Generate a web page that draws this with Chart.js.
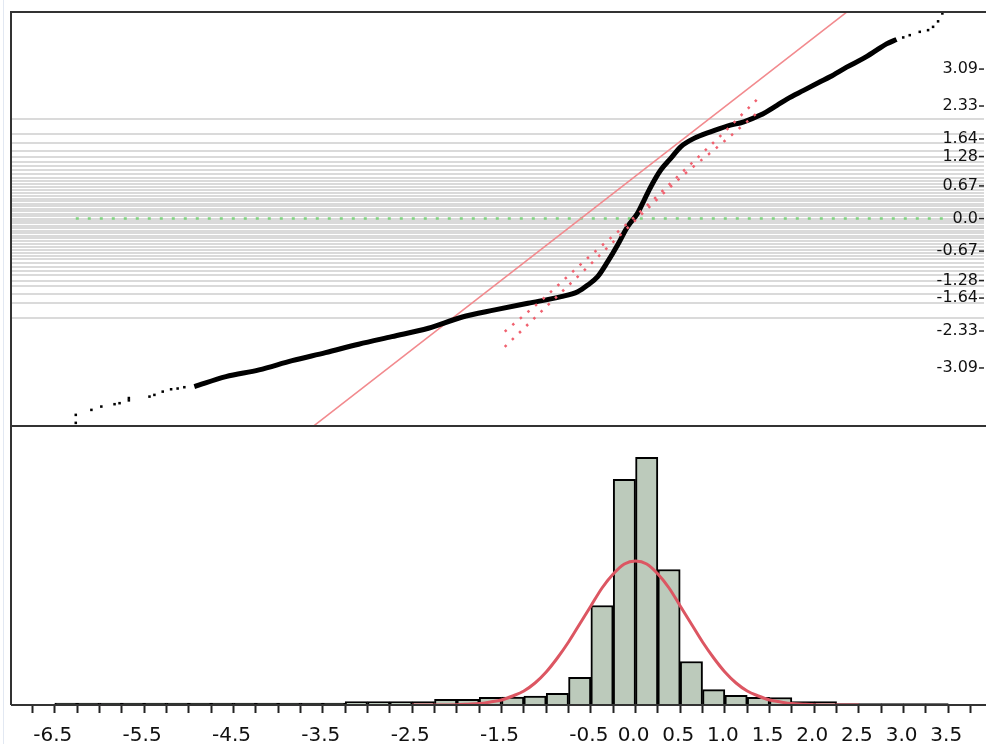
<!DOCTYPE html>
<html>
<head>
<meta charset="utf-8">
<title>Normal quantile plot</title>
<script src="https://cdn.jsdelivr.net/npm/chart.js@4.4.1/dist/chart.umd.min.js"></script>
<style>
    html, body { margin: 0; padding: 0; background: #fff; }
    #wrap { position: relative; width: 988px; height: 744px; overflow: hidden; }
    #edge { position: absolute; left: 3px; top: 0; width: 1px; height: 744px; background: #e2e8f2; }
</style>
</head>
<body>
<div id="wrap">
    <canvas id="chart" width="988" height="744"></canvas>
    <div id="edge"></div>
</div>
<script>
// ---- data ----
// quantile plot: data value (x) vs normal quantile (y)
const tailLowValues = [-6.265, -6.265, -6.090, -5.979, -5.831, -5.775, -5.671, -5.671, -5.440, -5.385, -5.292, -5.198, -5.125, -5.050];
const tailLowQuantiles = [-4.225, -4.060, -3.957, -3.888, -3.839, -3.818, -3.760, -3.712, -3.682, -3.647, -3.579, -3.530, -3.515, -3.488];

const denseValues = [-4.938, -4.585, -4.214, -3.843, -3.470, -3.099, -2.728, -2.319, -1.948, -1.575, -1.204, -0.833, -0.647, -0.535, -0.424, -0.312, -0.201, -0.089, 0.022, 0.097, 0.171, 0.282, 0.394, 0.505, 0.654, 0.839, 1.026, 1.212, 1.397, 1.583, 1.695, 1.881, 2.066, 2.177, 2.363, 2.550, 2.698, 2.809, 2.921];
const denseQuantiles = [-3.475, -3.269, -3.130, -2.938, -2.773, -2.599, -2.442, -2.269, -2.041, -1.890, -1.752, -1.616, -1.512, -1.374, -1.202, -0.893, -0.548, -0.169, 0.107, 0.382, 0.657, 1.002, 1.244, 1.483, 1.657, 1.793, 1.911, 2.000, 2.138, 2.340, 2.470, 2.650, 2.826, 2.930, 3.130, 3.310, 3.480, 3.610, 3.702];

const tailHighValues = [2.996, 3.069, 3.181, 3.274, 3.330, 3.386, 3.434];
const tailHighQuantiles = [3.744, 3.791, 3.860, 3.895, 3.963, 4.077, 4.240];

// fitted reference line and confidence bands
const refLineValues = [-3.601, 2.363];
const refLineQuantiles = [-4.287, 4.267];
const bandUpperValues = [-1.464, -1.037, -0.535, -0.011, 0.524, 0.970, 1.397];
const bandUpperQuantiles = [-2.339, -1.663, -0.816, 0.031, 0.961, 1.746, 2.531];
const bandLowerValues = [-1.464, -1.037, -0.535, -0.011, 0.524, 0.970, 1.397];
const bandLowerQuantiles = [-2.655, -1.890, -1.002, -0.052, 0.878, 1.560, 2.242];
const medianValues = [-6.265, 3.439];

// right axis: labelled normal quantiles
const quantLabels = ['3.09', '2.33', '1.64', '1.28', '0.67', '0.0', '-0.67', '-1.28', '-1.64', '-2.33', '-3.09'];
const quantValues = [3.090, 2.326, 1.645, 1.282, 0.674, 0, -0.674, -1.282, -1.645, -2.326, -3.090];
// probability grid p = 0.02 ... 0.98, as normal quantiles
const probGridQuantiles = [-2.054, -1.751, -1.555, -1.405, -1.282, -1.175, -1.080, -0.994, -0.915, -0.842, -0.772, -0.706, -0.643, -0.583, -0.524, -0.468, -0.412, -0.358, -0.305, -0.253, -0.202, -0.151, -0.100, -0.050, 0,
    0.050, 0.100, 0.151, 0.202, 0.253, 0.305, 0.358, 0.412, 0.468, 0.524, 0.583, 0.643, 0.706, 0.772, 0.842, 0.915, 0.994, 1.080, 1.175, 1.282, 1.405, 1.555, 1.751, 2.054];

// histogram (bin centres, width 0.25)
const histBins = [-6.375, -6.125, -5.875, -5.625, -5.375, -5.125, -4.875, -4.625, -4.375, -4.125, -3.875, -3.625, -3.375,
    -3.125, -2.875, -2.625, -2.375, -2.125, -1.875, -1.625, -1.375, -1.125, -0.875, -0.625, -0.375, -0.125,
    0.125, 0.375, 0.625, 0.875, 1.125, 1.375, 1.625, 1.875, 2.125, 2.375, 2.625, 2.875, 3.125, 3.375];
const histCounts = [2, 2, 2, 2, 2, 2, 2, 2, 2, 2, 2, 2, 2,
    3.3, 3.3, 3.3, 3.3, 5.7, 5.7, 7.7, 8, 9, 11.7, 27.7, 99.5, 225.7,
    247.7, 135.5, 43.5, 15.3, 9.7, 7.7, 7.5, 3.3, 3.3, 1.5, 1.5, 1.5, 1.5, 1.5];

// fitted normal density drawn over the histogram
const curveValues = [-2.5, -2.25, -2.0, -1.875, -1.75, -1.625, -1.5, -1.375, -1.25, -1.125, -1.0, -0.875, -0.75, -0.625, -0.5, -0.375, -0.25, -0.125, 0,
    0.125, 0.25, 0.375, 0.5, 0.625, 0.75, 0.875, 1.0, 1.125, 1.25, 1.375, 1.5, 1.625, 1.75, 1.875, 2.0, 2.25, 2.5];
const curveHeights = [0, 0.05, 0.3, 0.8, 1.4, 3, 5, 9, 14, 22, 33, 47, 63, 81, 99, 117, 131, 141, 144,
    141, 131, 117, 99, 81, 63, 47, 33, 22, 14, 9, 5, 3, 1.4, 0.8, 0.3, 0.05, 0];

// bottom axis
const xTickLabels = ['-6.5', '-5.5', '-4.5', '-3.5', '-2.5', '-1.5', '-0.5', '0.0', '0.5', '1.0', '1.5', '2.0', '2.5', '3.0', '3.5'];
const xTickValues = [];
for (let t = -6.75; t <= 3.751; t += 0.25) xTickValues.push(Math.round(t * 100) / 100);

const pts = (xs, ys) => xs.map((x, i) => ({ x, y: ys[i] }));

const framePlugin = {
    id: 'frame',
    afterDraw(chart) {
        const { ctx, chartArea: a, scales } = chart;
        const q = scales.q;
        ctx.save();
        ctx.strokeStyle = '#333';
        ctx.lineWidth = 2;
        ctx.beginPath();
        ctx.moveTo(a.left, a.bottom);
        ctx.lineTo(a.left, a.top);
        ctx.lineTo(a.right + 2, a.top);
        ctx.moveTo(a.left, q.bottom);
        ctx.lineTo(a.right + 2, q.bottom);
        ctx.moveTo(a.left, a.bottom);
        ctx.lineTo(a.right + 2, a.bottom);
        ctx.stroke();
        // little tick after each quantile label
        ctx.strokeStyle = '#222';
        ctx.lineWidth = 1.5;
        quantValues.forEach(v => {
            const y = q.getPixelForValue(v);
            ctx.beginPath();
            ctx.moveTo(a.right - 5, y);
            ctx.lineTo(a.right, y);
            ctx.stroke();
        });
        ctx.restore();
    }
};

new Chart(document.getElementById('chart'), {
    type: 'scatter',
    data: {
        datasets: [
            {
                type: 'bar', data: pts(histBins, histCounts), yAxisID: 'yH',
                backgroundColor: '#bccabb', borderColor: '#000', borderWidth: 2,
                barPercentage: 1, categoryPercentage: 1, order: 9
            },
            {
                type: 'line', data: pts(curveValues, curveHeights), yAxisID: 'yH',
                borderColor: '#dc5662', borderWidth: 3, pointRadius: 0,
                cubicInterpolationMode: 'monotone', order: 8
            },
            {
                type: 'line', data: pts(medianValues, [0, 0]), yAxisID: 'q',
                borderColor: '#7fd37f', borderWidth: 2.5, borderDash: [3, 9], pointRadius: 0, order: 7
            },
            {
                type: 'line', data: pts(refLineValues, refLineQuantiles), yAxisID: 'q',
                borderColor: '#f28a8e', borderWidth: 1.6, pointRadius: 0, order: 6
            },
            {
                type: 'line', data: pts(denseValues, denseQuantiles), yAxisID: 'q',
                borderColor: '#000', borderWidth: 5, pointRadius: 0,
                cubicInterpolationMode: 'monotone', order: 4
            },
            {
                type: 'scatter', data: pts(tailLowValues, tailLowQuantiles).concat(pts(tailHighValues, tailHighQuantiles)),
                yAxisID: 'q', pointStyle: 'rect', pointRadius: 1.8, backgroundColor: '#000', borderWidth: 0, order: 4
            },
            {
                type: 'line', data: pts(bandUpperValues, bandUpperQuantiles), yAxisID: 'q',
                borderColor: '#f0616f', borderWidth: 2.5, borderDash: [2.5, 7.5], pointRadius: 0,
                cubicInterpolationMode: 'monotone', order: 2
            },
            {
                type: 'line', data: pts(bandLowerValues, bandLowerQuantiles), yAxisID: 'q',
                borderColor: '#f0616f', borderWidth: 2.5, borderDash: [2.5, 7.5], pointRadius: 0,
                cubicInterpolationMode: 'monotone', order: 2
            }
        ]
    },
    options: {
        responsive: false,
        animation: false,
        events: [],
        layout: { padding: { left: 11, top: 12, right: 0, bottom: 0 } },
        plugins: { legend: { display: false }, tooltip: { enabled: false } },
        scales: {
            x: {
                type: 'linear', min: -6.99, max: 3.9, offset: false,
                afterBuildTicks: s => { s.ticks = xTickValues.map(v => ({ value: v })); },
                afterFit: s => { s.height = 39; },
                ticks: {
                    autoSkip: false, maxRotation: 0, padding: 11, labelOffset: -2,
                    font: { family: 'DejaVu Sans', size: 20 }, color: '#111',
                    callback: v => xTickLabels.find(t => Math.abs(parseFloat(t) - v) < 1e-6) || ''
                },
                grid: { offset: false, drawOnChartArea: false, drawTicks: true, tickLength: 8, tickWidth: 2, tickColor: '#222' },
                border: { display: false }
            },
            q: {
                type: 'linear', position: 'right', stack: 'panels', stackWeight: 414,
                min: -4.29, max: 4.27,
                afterBuildTicks: s => { s.ticks = quantValues.concat(probGridQuantiles).map(v => ({ value: v })); },
                ticks: {
                    mirror: true, padding: -6, autoSkip: false,
                    font: { family: 'DejaVu Sans', size: 16 }, color: '#111',
                    callback: (v, i) => (i < quantLabels.length ? quantLabels[i] : '')
                },
                grid: {
                    drawTicks: false, lineWidth: 2,
                    color: c => (c.index < quantLabels.length ? 'rgba(0,0,0,0)' : '#dadada')
                },
                border: { display: false }
            },
            yH: {
                type: 'linear', position: 'right', stack: 'panels', stackWeight: 279,
                min: 0, max: 279, display: false
            }
        }
    },
    plugins: [framePlugin]
});
</script>
</body>
</html>
